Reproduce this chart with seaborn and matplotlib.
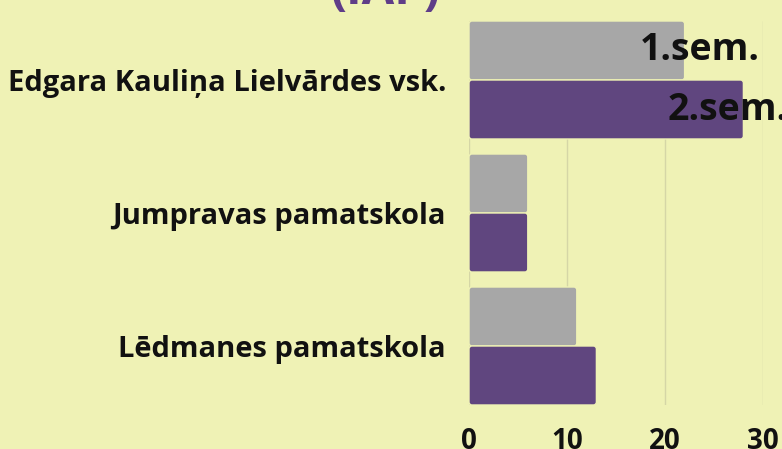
import numpy as np
import pandas as pd
import seaborn as sns
import matplotlib.pyplot as plt
from matplotlib.patches import FancyBboxPatch

# data
schools = ['Edgara Kauliņa Lielvārdes vsk.', 'Jumpravas pamatskola', 'Lēdmanes pamatskola']
sem1 = [22, 6, 11]
sem2 = [28, 6, 13]
semesters = ['1.sem.', '2.sem.']
ticks = [0, 10, 20, 30]

bg = '#eff2b5'
gray = '#a7a7a7'
purple = '#5f3d88'

sns.set_style('white')
plt.rcParams['font.family'] = ['Open Sans', 'DejaVu Sans']
plt.rcParams['font.weight'] = 'bold'

df = pd.DataFrame({
    'school': schools * 2,
    'sem': [semesters[0]] * 3 + [semesters[1]] * 3,
    'value': sem1 + sem2,
})

fig = plt.figure(figsize=(7.82, 4.49), dpi=100, facecolor=bg)
ax = fig.add_axes([469 / 782, 1 - 405 / 449, (763 - 469) / 782, 384 / 449])
ax.set_facecolor(bg)

sns.barplot(data=df, y='school', x='value', hue='sem', orient='h',
            palette=[gray, purple], width=0.887, ax=ax, legend=False,
            edgecolor=bg, linewidth=1, zorder=2)

# rounded corners on the bars
rx = 0.3
for p in list(ax.patches):
    x0, y0, w, h = p.get_x(), p.get_y(), p.get_width(), p.get_height()
    fb = FancyBboxPatch((x0, y0), w, h, boxstyle=f'round,pad=0,rounding_size={rx}',
                        mutation_aspect=0.075, facecolor=p.get_facecolor(),
                        edgecolor=bg, linewidth=1, zorder=2)
    p.remove()
    ax.add_patch(fb)

ax.set_xlim(0, 30)
ax.set_ylim(2.4436, -0.4436)
ax.set_xticks(ticks)
ax.xaxis.grid(True, color='#d5d6a6', linewidth=1, zorder=0)
ax.set_axisbelow(True)
for s in ax.spines.values():
    s.set_visible(False)
ax.set_xlabel('')
ax.set_ylabel('')
ax.tick_params(axis='x', length=0, pad=16, labelsize=20)
ax.tick_params(axis='y', length=0, pad=16.5, labelsize=21)
for lbl in ax.get_xticklabels() + ax.get_yticklabels():
    lbl.set_fontweight('bold')
    lbl.set_color('#111111')

# series names written on the top bars
ax.text(17.45, -0.222, semesters[0], fontsize=27, fontweight='bold',
        va='center', ha='left', color='#111111', clip_on=False, zorder=5)
ax.text(20.3, 0.222, semesters[1], fontsize=27, fontweight='bold',
        va='center', ha='left', color='#111111', clip_on=False, zorder=5)

# title, mostly cut off at the top of the image
fig.text(0.492, 1 - 4 / 449, '(IAP)', fontsize=34, fontweight='bold',
         color=purple, ha='center', va='baseline')

fig.savefig('out.png', dpi=100, facecolor=bg)
